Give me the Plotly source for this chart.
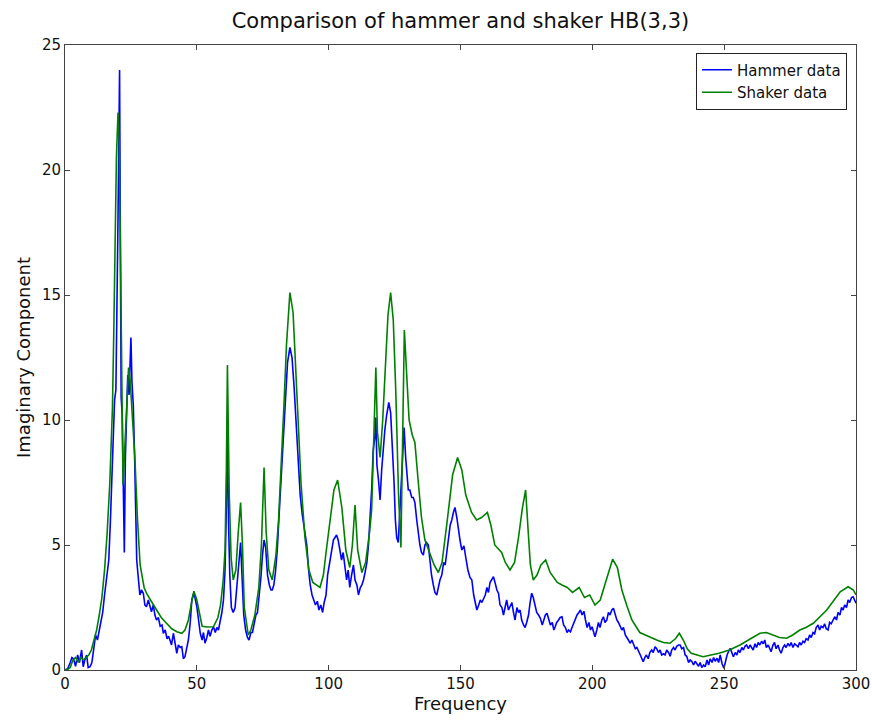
import plotly.graph_objects as go

# ---- data ----
hammer_freq = [0, 1, 2, 2.6, 3.2, 4, 4.8, 5.5, 6.3, 6.9, 7.5, 8.2, 8.8, 9.5, 10.2, 11, 11.6, 12.3, 13, 13.6,
               14.3, 15, 15.8, 16.6, 17.2, 17.8, 18.3, 18.8, 19.3, 19.7, 20.1, 20.4, 20.7, 21.0, 21.3, 21.7,
               22.1, 22.5, 22.9, 23.3, 23.8, 24.3, 24.7, 25.0, 25.4, 25.9, 26.4, 26.8, 27.2, 27.7, 28.4,
               29.0, 29.7, 30.3, 30.9, 31.6, 32.3, 32.8, 33.5, 34.1, 34.7, 35.4, 36.1, 36.8, 37.3, 38, 38.7,
               39.3, 39.8, 40.4, 41.1, 41.8, 42.4, 43, 43.7, 44.3, 44.9, 45.5, 46.2, 46.8, 47.5, 48.1, 48.7,
               49.3, 50, 50.7, 51.3, 52, 52.5, 53.1, 53.8, 54.4, 55, 55.7, 56.3, 57, 57.6, 58.2, 58.8, 59.5,
               60.1, 60.7, 61.2, 61.6, 62.0, 62.5, 63.1, 63.8, 64.5, 65.2, 65.9, 66.6, 67.2, 67.8, 68.5, 69.2,
               69.8, 70.5, 71.1, 71.7, 72.4, 73, 73.7, 74.3, 74.9, 75.5, 76.1, 76.8, 77.5, 78.1, 78.6, 79.2,
               79.8, 80.5, 81.2, 82, 82.8, 83.6, 84.4, 85.3, 86.1, 86.9, 87.6, 88.4, 89.2, 90, 90.4, 91, 91.7,
               92.4, 93, 93.7, 94.4, 95, 95.7, 96.3, 97, 97.7, 98.3, 99, 99.6, 100.3, 101, 101.8, 102.4, 103,
               103.6, 104.2, 104.9, 105.5, 106.2, 106.8, 107.4, 108, 108.7, 109.4, 110, 110.7, 111.3, 112,
               112.6, 113.2, 113.8, 114.5, 115.1, 115.7, 116.3, 116.9, 117.5, 117.9, 118.3, 118.9, 119.5,
               120.1, 120.7, 121.3, 122, 122.8, 123.5, 124.2, 124.8, 125.3, 125.8, 126.4, 127, 127.7, 128.6,
               129.2, 129.7, 130.2, 130.8, 131.5, 132.1, 132.7, 133.4, 134, 134.6, 135.2, 135.9, 136.5, 137.1,
               137.8, 138.4, 139, 139.7, 140.3, 141, 141.6, 142.2, 142.9, 143.6, 144.2, 144.8, 145.5, 146.1,
               146.7, 147.3, 147.9, 148.6, 149.2, 149.8, 150.5, 151.3, 152, 152.8, 153.6, 154.3, 155, 155.6,
               156.2, 156.9, 157.5, 158.1, 158.7, 159.4, 160, 160.6, 161.2, 161.9, 162.5, 163.1, 163.8, 164.4,
               165, 165.7, 166.3, 166.9, 167.5, 168.2, 168.8, 169.5, 170.1, 170.7, 171.4, 172, 172.6, 173.2,
               173.9, 174.5, 175.1, 175.8, 176.4, 177, 177.6, 178.3, 178.9, 179.6, 180.3, 181, 181.6, 182.2,
               182.8, 183.5, 184.1, 184.8, 185.4, 185.9, 186.5, 187.2, 187.8, 188.5, 189.1, 189.8, 190.4, 191,
               191.7, 192.3, 193, 193.6, 194.2, 194.9, 195.5, 196.1, 196.8, 197.4, 198, 198.7, 199.3, 199.9,
               200.5, 201, 201.7, 202.3, 202.9, 203.6, 204.2, 204.8, 205.5, 206.1, 206.7, 207.4, 208, 208.6,
               209.3, 209.9, 210.6, 211.2, 211.8, 212.5, 213.1, 213.8, 214.4, 215, 215.7, 216.3, 216.9, 217.6,
               218.2, 218.8, 219.3, 219.9, 220.5, 221.2, 221.8, 222.5, 223.1, 223.8, 224.4, 225.1, 225.7, 226.3,
               227, 227.6, 228.2, 228.9, 229.5, 230.1, 230.8, 231.4, 232, 232.7, 233.3, 233.9, 234.6, 235.2,
               235.8, 236.5, 237.1, 237.7, 238.4, 239, 239.6, 240.3, 240.9, 241.5, 242.2, 242.8, 243.5, 244.1,
               244.7, 245.4, 246, 246.6, 247.3, 247.9, 248.5, 249.2, 249.9, 250.5, 251.1, 251.7, 252.3, 252.9,
               253.5, 254.2, 254.8, 255.4, 256, 256.7, 257.3, 257.9, 258.5, 259.2, 259.8, 260.4, 261, 261.7,
               262.3, 262.9, 263.5, 264.2, 264.8, 265.4, 266, 266.7, 267.3, 267.8, 268.5, 269.1, 269.7, 270.4,
               271, 271.6, 272.3, 272.9, 273.5, 274.2, 274.8, 275.4, 276.1, 276.7, 277.3, 278, 278.6, 279.2,
               279.9, 280.5, 281.1, 281.8, 282.4, 283, 283.7, 284.3, 284.9, 285.6, 286.2, 286.8, 287.5, 288.1,
               288.7, 289.4, 290, 290.6, 291.3, 292, 292.6, 293.2, 293.9, 294.5, 295.1, 295.7, 296.4, 297,
               297.6, 298.3, 298.9, 299.5, 300]
hammer_val = [0, 0.05, 0.3, 0.5, 0.45, 0.15, 0.6, 0.3, 0.8, 0.13, 0.4, 0.6, 0.1, 0.13, 0.3, 0.9, 1.4, 1.2, 1.6, 2.0,
              2.3, 3.0, 3.7, 4.4, 5.9, 7.5, 9.0, 10.8, 11.2, 14.0, 18.0, 21.0, 24.0, 17.0, 10.9, 10.2,
              7.0, 4.7, 8.5, 10.5, 11.8, 11.0, 12.5, 13.3, 11.5, 10.6, 8.5, 6.0, 4.4, 3.8, 3.0,
              3.2, 3.07, 2.6, 2.53, 2.8, 2.45, 2.33, 2.6, 2.2, 2.0, 2.1, 1.75, 1.8, 1.47, 1.6, 1.25,
              1.35, 1.2, 1.0, 1.47, 1.0, 0.67, 1.0, 0.9, 0.93, 0.45, 0.53, 0.9, 1.2, 1.9, 2.8, 3.05,
              2.9, 2.53, 1.9, 1.47, 1.2, 1.5, 1.07, 1.3, 1.6, 1.35, 1.6, 1.73, 1.5, 1.7, 1.6, 1.9, 2.3,
              2.8, 4.0, 6.5, 10.0, 6.0, 3.8, 2.5, 2.3, 2.5, 3.5, 4.4, 5.1, 3.6, 2.2, 1.6, 1.3,
              1.2, 1.5, 1.5, 1.9, 2.2, 2.3, 3.0, 3.7, 4.6, 5.2, 4.9, 3.8, 3.4, 3.2, 3.2, 3.4,
              3.9, 4.8, 6.2, 7.8, 9.5, 11.2, 12.3, 12.9, 12.5, 11.3, 10.0, 8.5, 7.0, 6.2, 5.9, 5.6, 5.0,
              4.0, 3.4, 3.0, 2.8, 2.6, 2.75, 2.4, 2.6, 2.3, 2.7, 3.0, 3.8, 4.3, 4.8, 5.2, 5.3, 5.4,
              5.2, 4.8, 4.4, 4.7, 4.1, 3.6, 4.0, 3.3, 3.8, 4.2, 3.6, 3.4, 3.0, 3.3,
              3.4, 3.6, 3.9, 4.3, 5.0, 6.0, 7.2, 8.8, 9.3, 10.1, 8.2, 7.6, 6.8,
              8.0, 9.0, 9.6, 10.2, 10.7, 10.3, 9.0, 7.5, 6.0, 5.3, 5.1, 6.5, 8.0, 9.7,
              8.5, 7.6, 7.2, 7.2, 6.9, 6.9, 6.7, 6.0, 5.4, 5.0, 4.7, 4.6, 5.0, 5.1,
              5.0, 4.4, 3.8, 3.4, 3.1, 3.0, 3.3, 3.6, 3.8, 4.3, 4.2, 4.8, 5.3, 5.8,
              6.0, 6.3, 6.5, 6.1, 5.6, 5.2, 4.8, 4.97, 4.5, 4.0, 3.7, 3.6, 3.0, 2.7,
              2.4, 2.6, 2.8, 2.7, 2.87, 3.0, 3.3, 3.1, 3.5, 3.6, 3.73, 3.5, 3.2, 3.07,
              2.6, 2.5, 2.2, 2.5, 2.8, 2.4, 2.53, 2.7, 2.3, 2.0, 2.5, 2.3, 2.4, 2.0,
              1.8, 1.7, 1.9, 2.2, 2.7, 3.07, 2.9, 2.6, 2.3, 2.2, 2.07, 1.8, 2.0, 2.2,
              2.27, 2.0, 1.8, 1.9, 1.6, 1.73, 1.9, 2.0, 2.1, 2.13, 1.8, 1.7, 1.5, 1.6,
              1.53, 1.7, 1.9, 2.0, 2.2, 2.3, 2.4, 2.2, 2.35, 2.0, 1.7, 1.9, 1.6, 1.73,
              1.5, 1.33, 1.6, 1.9, 1.7, 2.0, 2.13, 1.9, 2.0, 2.3, 2.2, 2.4, 2.47, 2.2,
              2.0, 1.9, 1.73, 1.6, 1.7, 1.4, 1.3, 1.2, 1.07, 1.2, 1.0, 0.85, 0.9, 0.7,
              0.6, 0.45, 0.33, 0.5, 0.6, 0.45, 0.7, 0.8, 0.7, 0.93, 0.85, 0.7, 0.8, 0.6,
              0.65, 0.6, 0.8, 0.7, 0.55, 0.8, 0.9, 0.8, 0.95, 1.0, 1.0, 0.85, 0.9, 0.6,
              0.55, 0.3, 0.4, 0.35, 0.2, 0.35, 0.25, 0.15, 0.3, 0.1, 0.2, 0.13, 0.4, 0.2,
              0.45, 0.3, 0.5, 0.35, 0.47, 0.3, 0.6, 0.25, 0.07, 0.4, 0.6, 0.75, 0.87, 0.7,
              0.53, 0.7, 0.6, 0.8, 0.7, 0.9, 0.8, 0.95, 1.0, 0.85, 1.0, 0.9, 0.8, 1.05,
              0.9, 1.1, 1.0, 1.15, 1.05, 1.2, 0.9, 1.0, 0.8, 0.73, 1.0, 1.1, 0.85, 1.0,
              0.8, 0.67, 0.9, 1.0, 0.9, 1.07, 0.95, 1.1, 0.9, 1.05, 1.0, 0.93, 1.1, 1.0,
              1.15, 1.1, 1.25, 1.2, 1.4, 1.3, 1.5, 1.45, 1.7, 1.8, 1.6, 1.75, 1.7, 1.85,
              1.65, 1.6, 1.9, 1.85, 2.0, 2.13, 2.0, 2.3, 2.2, 2.5, 2.4, 2.6, 2.5, 2.8,
              2.7, 2.9, 2.93, 2.8, 2.67]

shaker_freq = [0, 1, 2, 3, 4, 5, 6, 7, 8, 9, 10, 11, 12, 13, 14, 15, 16, 17, 18, 18.5, 19, 19.5, 20.1, 20.6,
               21, 21.5, 22, 22.5, 23, 23.5, 24.1, 24.7, 25.5, 26.5, 27.5, 28.5, 30, 31, 33, 34.7, 36.5,
               38.5, 40.5, 42.4, 44.3, 45.5, 46.8, 48, 48.9, 50, 51, 52, 54, 56.3, 58, 59, 60, 60.7, 61.2,
               61.6, 62.3, 63, 63.8, 64.8, 65.7, 66.6, 67.3, 68, 69.5, 70.5, 72, 73.5, 74.5, 75.5, 76.3,
               77.3, 78.6, 80, 81, 82, 83, 84, 85.3, 86.5, 87.5, 88.5, 89.5, 91, 92.5, 94, 96.7, 98, 99,
               100.5, 102, 103.4, 105, 106.5, 108, 109, 110, 111, 112.6, 114, 115.5, 116.3, 117, 117.9,
               118.5, 119.5, 120.5, 121.5, 122.5, 123.5, 124.5, 125.5, 126.5, 127.4, 128.0, 128.7, 129.5,
               130.5, 131.7, 132.7, 134, 135.2, 136.5, 138.3, 140, 141.6, 143, 145, 147, 148.9, 150.5, 152,
               154.2, 156.1, 158, 160.2, 161.5, 163, 165.6, 167, 168.8, 170.5, 172, 173.5, 174.7, 175.7,
               176.5, 177.6, 179, 180.5, 182.3, 184, 186.7, 188.5, 190.5, 192.5, 195, 197, 199, 201, 203,
               205, 207.7, 209.5, 211.2, 213, 215, 218, 221, 224.4, 227, 229.4, 231.5, 233, 234.5, 236,
               237.5, 240, 242, 245, 248, 252, 256, 260, 263.6, 266, 268.6, 271, 273.7, 276, 278.7, 281,
               283.8, 286, 288.9, 291, 294, 297, 299, 300]
shaker_val = [0, 0.02, 0.1, 0.4, 0.5, 0.3, 0.5, 0.4, 0.5, 0.6, 0.8, 1.2, 1.6, 2.2, 2.9, 4.0, 5.5, 7.5, 10.5, 13.5,
              17.0, 20.5, 22.3, 21.0, 17.0, 11.0, 7.4, 8.5, 9.5, 11.0, 12.1, 11.6, 10.3, 8.5, 6.0, 4.2, 3.3,
              3.05, 2.7, 2.4, 2.1, 1.87, 1.65, 1.53, 1.47, 1.6, 2.0, 2.7, 3.15, 2.8, 2.2, 1.75, 1.72, 1.73,
              2.1, 2.6, 3.6, 4.8, 8.0, 12.2, 7.0, 4.5, 3.6, 4.0, 5.5, 6.7, 5.0, 2.5, 1.4, 1.6, 2.2, 3.3,
              5.0, 8.1, 5.5, 4.0, 3.6, 4.6, 6.0, 8.0, 10.5, 13.0, 15.1, 14.3, 12.3, 9.8, 7.5, 5.3, 4.0,
              3.5, 3.3, 3.8, 4.7, 6.0, 7.2, 7.6, 6.5, 4.8, 4.1, 5.0, 6.6, 4.8, 3.9, 4.3, 5.5, 6.4, 9.0,
              12.1, 9.5, 8.5, 10.0, 12.0, 14.2, 15.1, 14.0, 11.0, 7.0, 4.9, 9.0, 13.6, 12.0, 10.0, 9.4,
              9.1, 7.5, 6.1, 5.2, 4.7, 4.2, 3.9, 4.3, 6.0, 7.8, 8.5, 8.0, 7.0, 6.3, 6.0, 6.1, 6.3, 5.8,
              5.0, 4.7, 4.3, 4.0, 4.3, 5.3, 6.5, 7.2, 5.5, 4.2, 3.6, 3.8, 4.2, 4.4, 3.9, 3.5, 3.4, 3.3,
              3.1, 3.3, 2.9, 3.0, 2.6, 2.8, 3.5, 4.43, 4.1, 3.2, 2.6, 2.0, 1.5, 1.35, 1.2, 1.1, 1.07,
              1.25, 1.47, 1.2, 0.85, 0.67, 0.58, 0.53, 0.6, 0.67, 0.8, 1.0, 1.25, 1.47, 1.5, 1.4, 1.3,
              1.27, 1.4, 1.6, 1.7, 1.87, 2.1, 2.4, 2.7, 3.13, 3.33, 3.2, 3.0]

series_names = ["Hammer data", "Shaker data"]
series_colors = ["#0000ff", "#008000"]
x_ticks = [0, 50, 100, 150, 200, 250, 300]
y_ticks = [0, 5, 10, 15, 20, 25]

FONT = "DejaVu Sans"

fig = go.Figure()
fig.add_trace(go.Scatter(x=hammer_freq, y=hammer_val, mode="lines", name=series_names[0],
                         line=dict(color=series_colors[0], width=1.6)))
fig.add_trace(go.Scatter(x=shaker_freq, y=shaker_val, mode="lines", name=series_names[1],
                         line=dict(color=series_colors[1], width=1.6)))

axis_common = dict(showgrid=False, zeroline=False, showline=True, linecolor="#444444", linewidth=1,
                   mirror="ticks", ticks="inside", ticklen=5, tickcolor="#444444", automargin=False,
                   tickfont=dict(family=FONT, size=15, color="#111111"))

fig.update_layout(
    width=872, height=720,
    margin=dict(l=65, r=16, t=45, b=50),
    paper_bgcolor="white", plot_bgcolor="white",
    title=dict(text="Comparison of hammer and shaker HB(3,3)", x=0.528, xanchor="center",
               y=0.972, yanchor="middle", font=dict(family=FONT, size=21, color="#111111")),
    xaxis=dict(range=[0, 300], tickvals=x_ticks,
               title=dict(text="Frequency", font=dict(family=FONT, size=18, color="#111111"), standoff=4),
               **axis_common),
    yaxis=dict(range=[0, 25], tickvals=y_ticks,
               title=dict(text="Imaginary Component", font=dict(family=FONT, size=18, color="#111111"), standoff=6),
               **axis_common),
    legend=dict(x=0.9886, y=0.988, xanchor="right", yanchor="top", bgcolor="white",
                bordercolor="#222222", borderwidth=1, itemwidth=30,
                font=dict(family=FONT, size=15, color="#111111"), tracegroupgap=0),
    showlegend=True,
)

fig.write_html("out.html")
